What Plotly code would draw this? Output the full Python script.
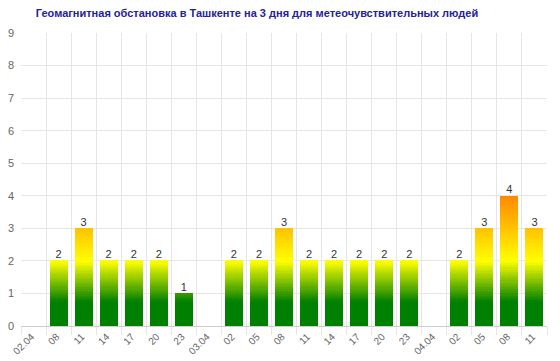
import plotly.graph_objects as go

title_text = "Геомагнитная обстановка в Ташкенте на 3 дня для метеочувствительных людей"
x_labels = ["02.04", "08", "11", "14", "17", "20", "23",
            "03.04", "02", "05", "08", "11", "14", "17", "20", "23",
            "04.04", "02", "05", "08", "11"]
kp_values = [0, 2, 3, 2, 2, 2, 1,
             0, 2, 2, 3, 2, 2, 2, 2, 2,
             0, 2, 3, 4, 3]

positions = list(range(len(x_labels)))

# gradient stops (y value, rgb)
stops = [(0.0, (0, 128, 0)), (0.75, (0, 128, 0)), (2.0, (255, 255, 0)),
         (3.0, (255, 195, 0)), (4.0, (255, 136, 0)), (9.0, (255, 60, 0))]


def grad_color(y):
    for (y0, c0), (y1, c1) in zip(stops[:-1], stops[1:]):
        if y <= y1:
            t = 0 if y1 == y0 else max(0.0, (y - y0) / (y1 - y0))
            c = [round(a + (b - a) * t) for a, b in zip(c0, c1)]
            return "rgb(%d,%d,%d)" % tuple(c)
    return "rgb(%d,%d,%d)" % stops[-1][1]


N = 60
fig = go.Figure()
for k in range(N):
    fig.add_trace(go.Bar(
        x=positions,
        y=[v / N for v in kp_values],
        marker=dict(color=[grad_color(v * (k + 0.5) / N) for v in kp_values],
                    line=dict(width=0)),
        width=0.72,
        hoverinfo="skip",
        showlegend=False,
    ))

fig.add_trace(go.Scatter(
    x=positions,
    y=kp_values,
    mode="text",
    text=[str(v) if v > 0 else "" for v in kp_values],
    textposition="top center",
    textfont=dict(family="Liberation Sans, Arial", size=11, color="#333333"),
    cliponaxis=False,
    showlegend=False,
    hoverinfo="skip",
))

fig.update_layout(
    width=560, height=361,
    margin=dict(l=20.5, r=13, t=33, b=35),
    paper_bgcolor="white", plot_bgcolor="white",
    barmode="stack", bargap=0,
    title=dict(text="<b>" + title_text + "</b>", x=257 / 560, xref="container", xanchor="center",
               y=1 - 13 / 361, yref="container", yanchor="middle",
               font=dict(family="Liberation Sans, Arial", size=11, color="#22229a")),
    xaxis=dict(
        range=[-0.5, len(x_labels) - 0.5], automargin=False,
        tickmode="array", tickvals=positions, ticktext=x_labels,
        tickangle=-45, ticks="", ticklabelshift=-2,
        tickfont=dict(family="Liberation Sans, Arial", size=10, color="#666666"),
        showgrid=False, zeroline=False,
        showline=True, linecolor="#cccccc", linewidth=1,
        minor=dict(tickmode="array",
                   tickvals=[p - 0.5 for p in positions] + [positions[-1] + 0.5],
                   showgrid=True, gridcolor="#e6e6e6", gridwidth=1,
                   ticks="outside", ticklen=8, tickcolor="#e6e6e6"),
    ),
    yaxis=dict(
        range=[0, 9], tick0=0, dtick=1, automargin=False,
        showgrid=True, gridcolor="#e6e6e6", gridwidth=1, zeroline=False,
        tickfont=dict(family="Liberation Sans, Arial", size=11, color="#666666"),
        ticks="", ticklabelstandoff=6,
    ),
)

fig.write_html("out.html")
